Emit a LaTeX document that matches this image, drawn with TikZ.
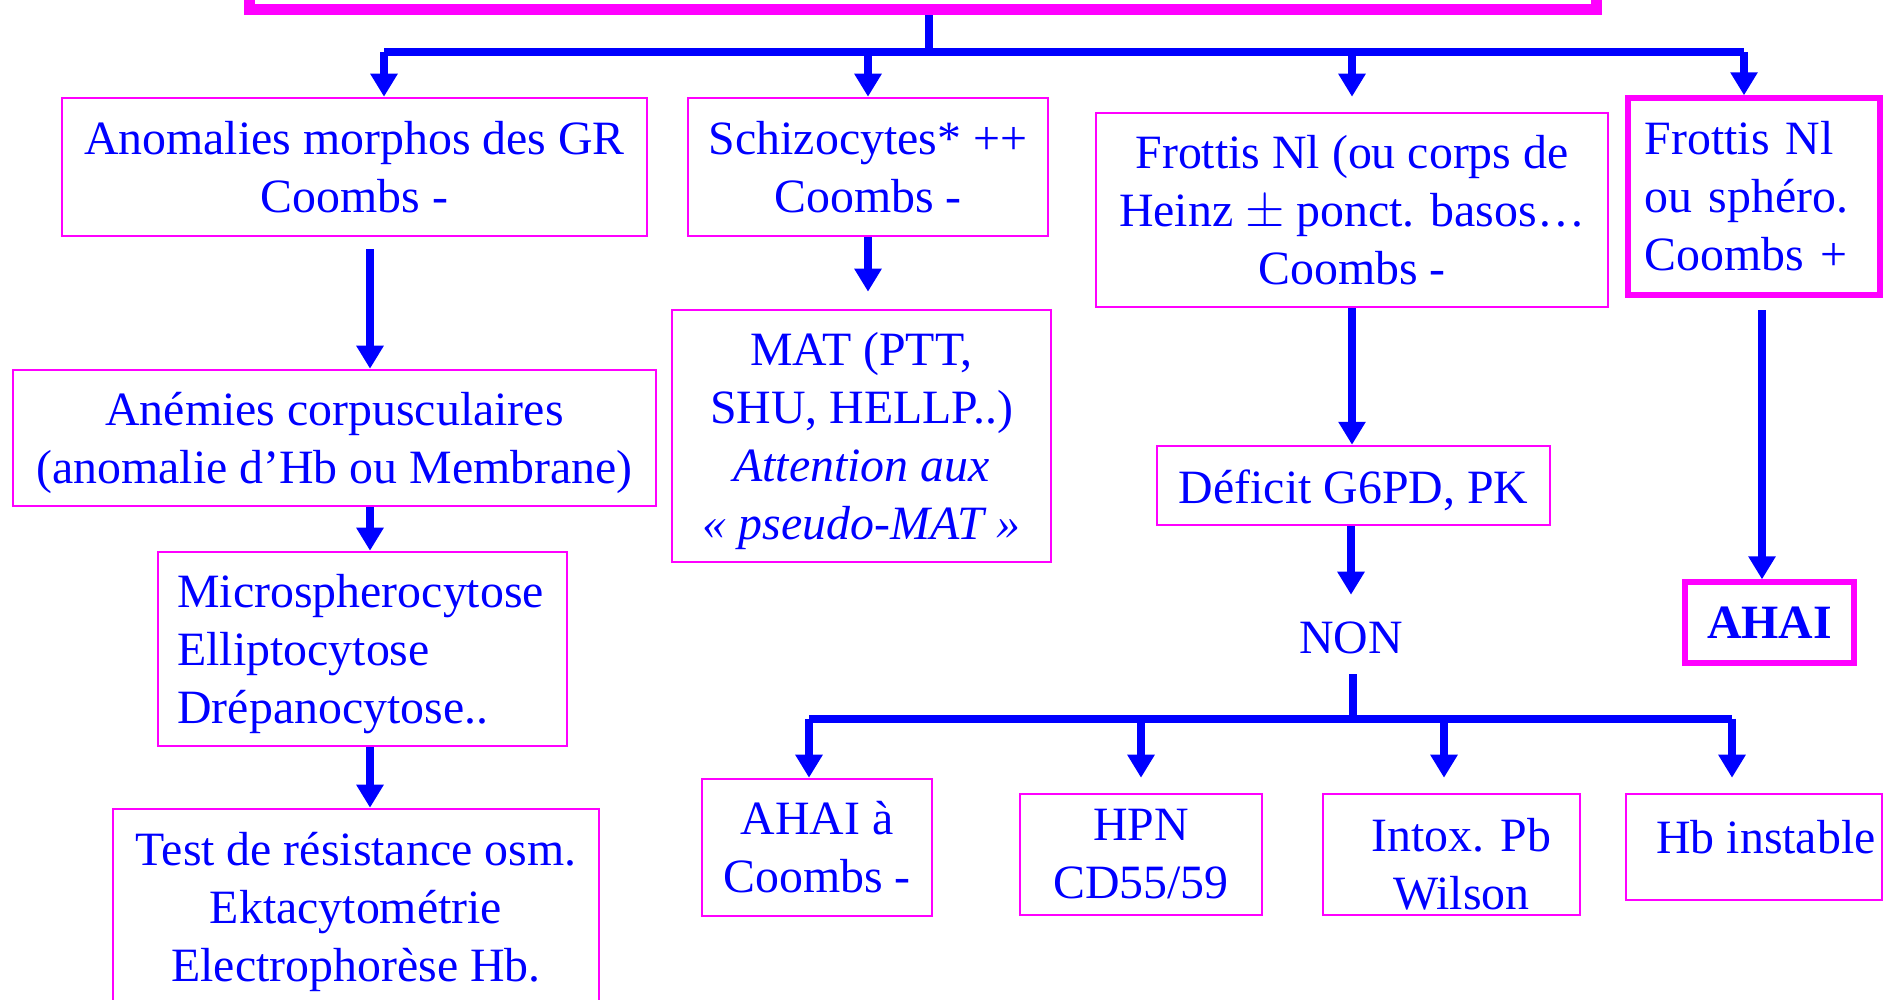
\documentclass[tikz,border=0pt]{standalone}
\usepackage{fontspec}
\setmainfont{Liberation Serif}
\usetikzlibrary{arrows.meta}
\definecolor{hblue}{RGB}{0,0,255}
\definecolor{hpink}{RGB}{255,0,255}
\newcommand{\padtop}[1][0.44cm]{\rule{0pt}{#1}}

\begin{document}
\begin{tikzpicture}[x=0.01cm,y=-0.01cm,
    every node/.style={text=hblue,font=\fontsize{13.6}{16.5}\selectfont,inner sep=0pt},
    pbox/.style={draw=hpink,line width=0.7pt,align=center},
    thickbox/.style={draw=hpink,line width=1.5pt},
    trait/.style={draw=hblue,line width=0.08cm},
    fleche/.style={trait,-{Triangle[length=0.23cm,width=0.26cm]}}]
      \clip (0,0) rectangle (1885,999);

      % title box, only its lower edge shows
      \node[draw=hpink,line width=0.11cm,minimum width=13.465cm,minimum height=0.99cm] (titre) at (922.75,-40) {};

      \node[pbox,minimum width=5.85cm,minimum height=1.38cm] (anom) at (354.5,167) {Anomalies morphos des GR\\Coombs -};
      \node[pbox,minimum width=3.6cm,minimum height=1.38cm] (schizo) at (868,167) {Schizocytes* ++\\Coombs -};
      \node[pbox,minimum width=5.12cm,minimum height=1.94cm] (frottis) at (1352,210) {Frottis Nl (ou corps de\\Heinz $\pm$ ponct. basos…\\Coombs -};
      \node[thickbox,align=left,text width=2.18cm,inner xsep=0.17cm,minimum height=1.97cm] (sphero) at (1754,196.5) {Frottis Nl\\ou sphéro.\\Coombs +};

      \node[pbox,minimum width=6.43cm,minimum height=1.36cm] (anemies) at (334.5,438) {\padtop Anémies corpusculaires\\(anomalie d’Hb ou Membrane)};
      \node[pbox,align=left,text width=3.7cm,inner xsep=0.195cm,minimum height=1.94cm] (micro) at (362.5,649) {\padtop Microspherocytose\\Elliptocytose\\Drépanocytose..};
      \node[pbox,minimum width=4.86cm,minimum height=1.95cm] (test) at (356,906.5) {\padtop Test de résistance osm.\\Ektacytométrie\\Electrophorèse Hb.};
      \node[pbox,minimum width=3.79cm,minimum height=2.52cm] (mat) at (861.5,436) {\padtop MAT (PTT,\\SHU, HELLP..)\\\textit{Attention aux}\\\textit{« pseudo-MAT »}};

      \node[pbox,minimum width=3.93cm,minimum height=0.79cm] (deficit) at (1353.5,485.5) {\padtop Déficit G6PD, PK};
      \node (non) at (1351,637.5) {NON};
      \node[thickbox,minimum width=1.69cm,minimum height=0.81cm,font=\fontsize{13.6}{16.5}\selectfont\bfseries] (ahai) at (1769.5,622.5) {AHAI};

      \node[pbox,minimum width=2.3cm,minimum height=1.37cm] (ahaineg) at (817,847.5) {AHAI à\\Coombs -};
      \node[pbox,minimum width=2.42cm,minimum height=1.21cm] (hpn) at (1141,854.5) {HPN\\CD55/59};
      \node[pbox,minimum width=2.57cm,minimum height=1.21cm] (intox) at (1451.5,854.5) {\padtop[0.53cm]\hspace*{0.2cm}Intox. Pb\\\hspace*{0.2cm}Wilson};
      \node[pbox,minimum width=2.56cm,minimum height=1.06cm,text depth=0.2cm] (hbinst) at (1754,847) {\hspace*{0.24cm}Hb instable};

      % upper fork
      \coordinate (hub) at (929,52);
      \coordinate (b1) at (384,52);
      \coordinate (b4) at (1744,52);
      \draw[trait] (titre.south -| hub) -- (hub);
      \draw[trait] (b1) -- (b4);
      \draw[fleche] (b1) -- (b1 |- anom.north);
      \draw[fleche] (schizo.north |- hub) -- (schizo.north);
      \draw[fleche] (frottis.north |- hub) -- (frottis.north |- schizo.north);
      \draw[fleche] (b4) -- (b4 |- sphero.north);

      % left column
      \coordinate (c1) at (370,249);
      \draw[fleche] (c1) -- (c1 |- anemies.north);
      \draw[fleche] (anemies.south -| c1) -- (micro.north -| c1);
      \draw[fleche] (micro.south -| c1) -- (test.north -| c1);
      \draw[fleche,shorten >=0.17cm] (schizo.south) -- (schizo.south |- mat.north);

      % right columns
      \draw[fleche] (frottis.south) -- (frottis.south |- deficit.north);
      \draw[fleche,shorten >=0.26cm] (deficit.south -| non) -- (non.north);
      \coordinate (c2) at (1762,310);
      \draw[fleche] (c2) -- (c2 |- ahai.north);

      % lower fork
      \coordinate (hub2) at (1353,718.5);
      \coordinate (d1) at (809,718.5);
      \coordinate (d2) at (1141,718.5);
      \coordinate (d3) at (1444,718.5);
      \coordinate (d4) at (1732,718.5);
      \draw[trait,shorten <=0.2cm] (non.south -| hub2) -- (hub2);
      \draw[trait] (d1) -- (d4);
      \draw[fleche] (d1) -- (d1 |- ahaineg.north);
      \draw[fleche] (d2) -- (d2 |- ahaineg.north);
      \draw[fleche] (d3) -- (d3 |- ahaineg.north);
      \draw[fleche] (d4) -- (d4 |- ahaineg.north);
\end{tikzpicture}
\end{document}
